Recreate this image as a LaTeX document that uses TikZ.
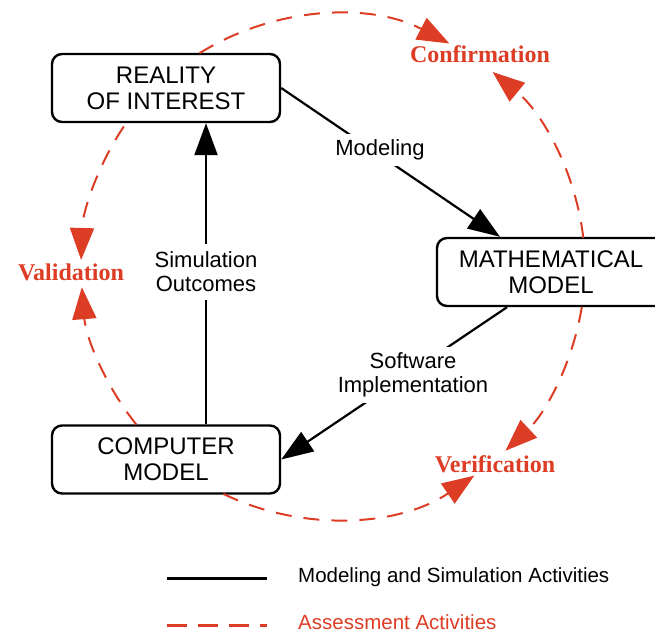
\documentclass[tikz,border=0pt]{standalone}
\usepackage{fontspec}
\setmainfont{Liberation Sans}
\newfontfamily\redserif{Liberation Serif}
\usetikzlibrary{arrows.meta,calc,positioning}
\definecolor{r221g61b36}{RGB}{221,61,36}

\begin{document}
\begin{tikzpicture}[x=1pt,y=-1pt,
    modelbox/.style={draw,line width=2.4pt,rounded corners=10pt,fill=white,minimum width=228pt,
      minimum height=68pt,inner sep=0pt,align=center,font=\fontsize{24}{26}\selectfont},
    flow/.style={line width=2.2pt,-{Triangle[length=32pt,width=23pt]}},
    assess/.style={r221g61b36,line width=2pt,dash pattern=on 16pt off 12pt,
      -{Triangle[length=32pt,width=24pt]}},
    flowlabel/.style={fill=white,inner sep=6pt,align=center,font=\fontsize{22}{24}\selectfont},
    assesslabel/.style={r221g61b36,anchor=base,inner sep=0pt,font=\redserif\bfseries\fontsize{24}{28}\selectfont},
    legendtext/.style={anchor=base west,inner sep=0pt,font=\fontsize{20.5}{24}\selectfont}]
    \useasboundingbox (0,0) rectangle (655,634);

    % Marking box REALITY OF INTEREST
    \node[modelbox] (reality) at (166,88) {REALITY\\OF INTEREST};

    % Marking box MATHEMATICAL MODEL
    \node[modelbox] (math) at (551,272) {MATHEMATICAL\\MODEL};

    % Marking box COMPUTER MODEL
    \node[modelbox] (computer) at (166,459.5) {COMPUTER\\MODEL};

    % Drawing segment Modeling
    \draw[flow] (reality.east) -- ([xshift=-51pt]math.north);
    \node[flowlabel] (modeling) at (380,150) {Modeling};

    % Drawing segment Software Implementation
    \draw[flow] ([xshift=-44pt]math.south) -- (computer.east);
    \node[flowlabel] (software) at (413,375) {Software\\Implementation};

    % Drawing segment Simulation Outcomes
    \draw[flow] ([xshift=40pt]computer.north) -- ([xshift=40pt]reality.south);
    \node[flowlabel,inner sep=8pt] (outcomes) at (206,272) {Simulation\\Outcomes};

    % Centre of the assessment circle
    \coordinate (hub) at (333,267);

    % Drawing arcs Confirmation
    \draw[assess] ([shift={(-122:252)}]hub) arc[start angle=-122,end angle=-62.5,radius=252];
    \draw[assess] ([shift={(-6.6:252)}]hub) arc[start angle=-6.6,end angle=-50.7,radius=252];

    % Drawing arcs Verification
    \draw[assess] ([shift={(9.1:252)}]hub) arc[start angle=9.1,end angle=46.8,radius=252];
    \draw[assess] ([shift={(115.8:252)}]hub) arc[start angle=115.8,end angle=55.9,radius=252];

    % Drawing arcs Validation
    \draw[assess] ([shift={(141.3:252)}]hub) arc[start angle=141.3,end angle=175.4,radius=252];
    \draw[assess] ([shift={(213.9:252)}]hub) arc[start angle=213.9,end angle=181.6,radius=252];

    % Marking assessment labels
    \node[assesslabel] (confirmation) at (480,63) {Confirmation};
    \node[assesslabel] (validation) at (71,280) {Validation};
    \node[assesslabel] (verification) at (495,472) {Verification};

    % Drawing legend
    \coordinate (legAs) at (167,578);
    \coordinate (legAe) at (267,578);
    \coordinate (legBs) at (167,625);
    \coordinate (legBe) at (267,625);
    \draw[line width=3pt] (legAs) -- (legAe);
    \draw[r221g61b36,line width=3pt,dash pattern=on 20pt off 11pt] (legBs) -- (legBe);
    \node[legendtext] (legA) at (298,582) {Modeling and Simulation Activities};
    \node[legendtext,r221g61b36] (legB) at (298,629) {Assessment Activities};
\end{tikzpicture}
\end{document}
